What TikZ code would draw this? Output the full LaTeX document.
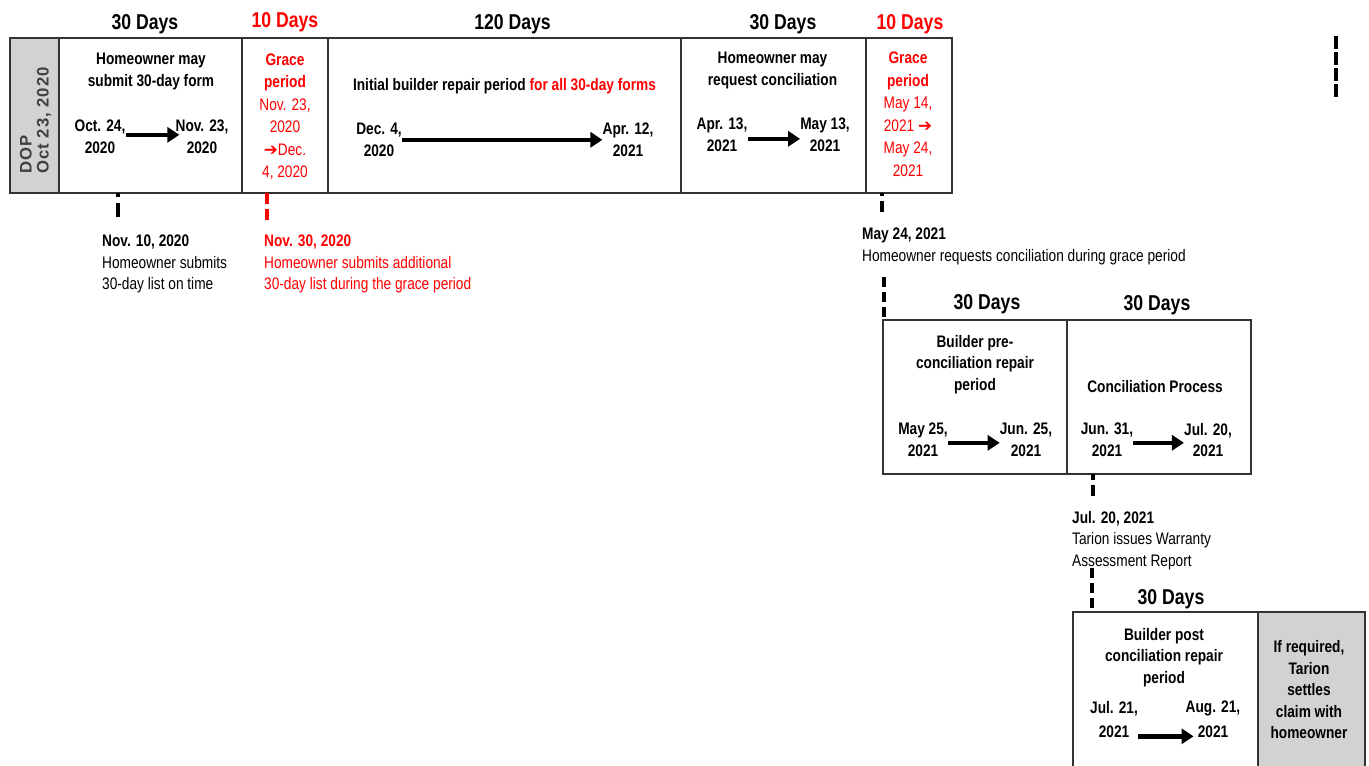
\documentclass[tikz,border=0pt]{standalone}
\usepackage{fontspec}
\setmainfont{Liberation Sans}[FakeStretch=0.82]
\newfontfamily\dopfont{Liberation Sans}[LetterSpace=6]
\newfontfamily\symfont{DejaVu Sans}
\usetikzlibrary{arrows.meta, positioning}
\definecolor{GraceRed}{HTML}{FF0000}
\definecolor{BoxGray}{HTML}{D2D2D2}
\definecolor{LineGray}{HTML}{333333}
\definecolor{DopText}{HTML}{404040}
\newcommand{\rarr}{{\symfont\char"2794}}

\begin{document}
\begin{tikzpicture}[
        x=1pt, y=-1pt,
        box/.style={draw=LineGray, line width=1.5pt, inner sep=0pt, outer sep=0pt},
        gbox/.style={box, fill=BoxGray},
        hdr/.style={anchor=base, font=\fontsize{21.5}{24}\selectfont\bfseries},
        txt/.style={align=center, inner sep=0pt, font=\fontsize{16.7}{21.5}\selectfont\bfseries},
        grace/.style={align=center, inner sep=0pt, text=GraceRed, font=\fontsize{16.7}{22.5}\selectfont},
        note/.style={align=left, anchor=west, inner sep=0pt, font=\fontsize{16.7}{21.5}\selectfont},
        arr/.style={-{Triangle[length=12pt, width=15pt]}, line width=4.5pt},
        dsh/.style={line width=3.5pt, dash pattern=on 11pt off 5pt},
      ]
        \useasboundingbox (0,0) rectangle (1369,766);
        % first row of periods
        \node[gbox, minimum width=49, minimum height=155] (dop) at (34.5,115.5) {};
        \node[box, minimum width=183, minimum height=155, right=0pt of dop] (b1) {};
        \node[box, minimum width=86, minimum height=155, right=0pt of b1] (b2) {};
        \node[box, minimum width=353, minimum height=155, right=0pt of b2] (b3) {};
        \node[box, minimum width=185, minimum height=155, right=0pt of b3] (b4) {};
        \node[box, minimum width=86, minimum height=155, right=0pt of b4] (b5) {};
        \node[rotate=90, align=left, inner sep=0pt, text=DopText,
              font=\dopfont\fontsize{16.7}{17}\selectfont\bfseries] (doptxt) at (35.5,120.5) {DOP\\Oct 23, 2020};
        \node[hdr] (h1) at (145,29) {30 Days};
        \node[hdr, text=GraceRed] (h2) at (285,27) {10 Days};
        \node[hdr] (h3) at (512.5,29) {120 Days};
        \node[hdr] (h4) at (783,29) {30 Days};
        \node[hdr, text=GraceRed] (h5) at (910,29) {10 Days};
        % box 1
        \node[txt] (t1) at (151,71.4) {Homeowner may\\submit 30-day form};
        \node[txt] (d1a) at (100,136.8) {Oct. 24,\\2020};
        \node[txt] (d1b) at (202,136.8) {Nov. 23,\\2020};
        \draw[arr, shorten >=-4pt] ([yshift=2pt]d1a.east) -- ([yshift=2pt]d1b.west);
        % grace 1
        \node[grace] (g1) at (285,116.5) {\textbf{Grace}\\\textbf{period}\\Nov. 23,\\2020\\\rarr Dec.\\4, 2020};
        % box 3
        \node[txt, anchor=base] (t3) at (504.5,90) {Initial builder repair period \textcolor{GraceRed}{for all 30-day forms}};
        \node[txt] (d3a) at (379,139.8) {Dec. 4,\\2020};
        \node[txt] (d3b) at (628,139.8) {Apr. 12,\\2021};
        \draw[arr] (d3a.east) -- (d3b.west);
        % box 4
        \node[txt] (t4) at (772.5,70.4) {Homeowner may\\request conciliation};
        \node[txt] (d4a) at (722,134.8) {Apr. 13,\\2021};
        \node[txt] (d4b) at (825,134.8) {May 13,\\2021};
        \draw[arr] ([yshift=-4pt]d4a.east) -- ([yshift=-4pt]d4b.west);
        % grace 2
        \node[grace] (g2) at (908,114.3) {\textbf{Grace}\\\textbf{period}\\May 14,\\2021 \rarr\\May 24,\\2021};
        % notes below first row
        \node[note] (n1txt) at (102,264.3) {\textbf{Nov. 10, 2020}\\Homeowner submits\\30-day list on time};
        \node[note, text=GraceRed] (n2txt) at (264,264.3) {\textbf{Nov. 30, 2020}\\Homeowner submits additional\\30-day list during the grace period};
        \node[note] (n3txt) at (862,246.5) {\textbf{May 24, 2021}\\Homeowner requests conciliation during grace period};
        \coordinate (n1) at (118,217);
        \coordinate (n2) at (267,220);
        \coordinate (n3) at (882,212);
        \coordinate (n4) at (884,277);
        \draw[dsh, dash pattern=on 14pt off 6pt] (n1) -- (n1 |- b1.south);
        \draw[dsh, draw=GraceRed] (n2) -- (n2 |- b2.south);
        \draw[dsh] (n3) -- (n3 |- b5.south);
        % second row
        \node[box, minimum width=184, minimum height=154] (b6) at (975,397) {};
        \node[box, minimum width=184, minimum height=154, right=0pt of b6] (b7) {};
        \draw[dsh, dash pattern=on 10pt off 5pt] (n4) -- (n4 |- b6.north);
        \node[hdr] (h6) at (987,309) {30 Days};
        \node[hdr] (h7) at (1157,310) {30 Days};
        \node[txt] (t6) at (975,364.2) {Builder pre-\\conciliation repair\\period};
        \node[txt] (d6a) at (923,439.8) {May 25,\\2021};
        \node[txt] (d6b) at (1026,439.8) {Jun. 25,\\2021};
        \draw[arr] ([yshift=-3pt]d6a.east) -- ([yshift=-3pt]d6b.west);
        \node[txt, anchor=base] (t7) at (1155,392) {Conciliation Process};
        \node[txt] (d7a) at (1107,439.8) {Jun. 31,\\2021};
        \node[txt] (d7b) at (1208,439.8) {Jul. 20,\\2021};
        \draw[arr] ([yshift=-3pt]d7a.east) -- ([yshift=-3pt]d7b.west);
        \node[note] (n5txt) at (1072,540.3) {\textbf{Jul. 20, 2021}\\Tarion issues Warranty\\Assessment Report};
        \coordinate (n5) at (1093,496);
        \coordinate (n6) at (1092,568);
        \draw[dsh] (n5) -- (n5 |- b7.south);
        % third row
        \node[box, minimum width=185, minimum height=170] (b8) at (1165.5,697) {};
        \node[gbox, minimum width=107, minimum height=170, right=0pt of b8] (b9) {};
        \draw[dsh, dash pattern=on 10pt off 5pt] (n6) -- (n6 |- b8.north);
        \node[hdr] (h8) at (1171,604) {30 Days};
        \node[txt] (t8) at (1164,657.2) {Builder post\\conciliation repair\\period};
        \node[txt] (d8a) at (1114,719.3) {Jul. 21,\\[3pt]2021};
        \node[txt] (d8b) at (1213,719.3) {Aug. 21,\\[3pt]2021};
        \draw[arr, shorten >=-8pt] ([yshift=-17pt]d8a.east) -- ([yshift=-17pt]d8b.west);
        \node[txt] (t9) at (1309,690) {If required,\\Tarion\\settles\\claim with\\homeowner};
        % stray marker at right
        \coordinate (m1) at (1336,36);
        \coordinate (m2) at (1336,97);
        \draw[dsh, dash pattern=on 13pt off 3pt] (m1) -- (m2);
      \end{tikzpicture}
\end{document}
